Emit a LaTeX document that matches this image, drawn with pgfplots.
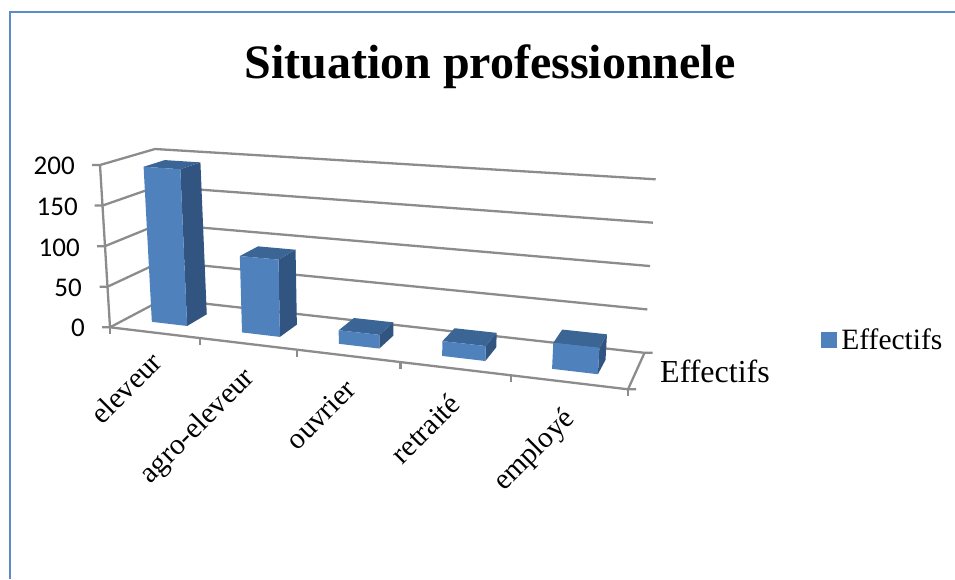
\documentclass[border=0pt]{standalone}
\usepackage{fontspec}
\usepackage{pgfplots}
\pgfplotsset{compat=1.18}
\setmainfont{Liberation Serif}
\newfontfamily\calibrifont{Carlito}

\definecolor{barfront}{HTML}{4F81BD}
\definecolor{barside}{HTML}{325480}
\definecolor{bartop}{HTML}{3B6595}
\definecolor{gridgrey}{HTML}{8C8C8C}
\definecolor{frameblue}{HTML}{5B8CC8}

% Projection of the chart box: t = category position / 5, d = depth, v = value / 200
\pgfplotsset{
  /pgf/declare function={
    pu(\t)=\t*(0.8375+0.1625*\t);
    PX(\t,\d,\v)=(1-\v)*((1-\d)*(110+518*pu(\t))+\d*(163.6+480.9*pu(\t)))
                 +\v*((1-\d)*(100+540*pu(\t))+\d*(155+500.7*pu(\t)));
    PY(\t,\d,\v)=(1-\v)*((1-\d)*(327.3+62*pu(\t))+\d*(299+53.8*pu(\t)))
                 +\v*((1-\d)*(165+36.6*pu(\t))+\d*(149+30.3*pu(\t)));
  },
  box line/.style={draw=gridgrey,line width=2.3pt,line join=round},
}

% One line through the box; columns: t d v plus a pixel offset dx dy
\newcommand{\boxline}[1]{%
  \addplot[box line] table[row sep=\\,
    x expr={PX(\thisrow{t}/5,\thisrow{d},\thisrow{v}/200)+\thisrow{dx}},
    y expr={PY(\thisrow{t}/5,\thisrow{d},\thisrow{v}/200)+\thisrow{dy}}]
    {t d v dx dy\\ #1};}

% One face of a column: colour, category index, value, corners
\newcommand{\barface}[4]{%
  \addplot[fill=#1,draw=none] table[row sep=\\,
    x expr={PX((#2+\thisrow{a})/5,\thisrow{d},\thisrow{h}*#3/200)},
    y expr={PY((#2+\thisrow{a})/5,\thisrow{d},\thisrow{h}*#3/200)}]
    {a d h\\ #4} -- cycle;}
\newcommand{\columnbar}[2]{%
  \barface{barside}{#1}{#2}{0.7 0.3 0\\ 0.7 0.7 0\\ 0.7 0.7 1\\ 0.7 0.3 1\\}
  \barface{bartop}{#1}{#2}{0.3 0.3 1\\ 0.7 0.3 1\\ 0.7 0.7 1\\ 0.3 0.7 1\\}
  \barface{barfront}{#1}{#2}{0.3 0.3 0\\ 0.7 0.3 0\\ 0.7 0.3 1\\ 0.3 0.3 1\\}
}

\begin{document}
\begin{tikzpicture}
\begin{axis}[
  scale only axis,
  width=955pt,height=579pt,
  xmin=0,xmax=955,ymin=0,ymax=579,
  y dir=reverse,
  hide axis,
  clip=false,
  legend style={at={(axis cs:821,339.5)},anchor=west,draw=none,fill=none,
    inner sep=0pt,outer sep=0pt,
    font=\fontsize{29.5}{31}\selectfont,
    legend cell align=left},
]
\addlegendimage{legend image code/.code={\fill[barfront] (0pt,-7.5pt) rectangle (15pt,7.5pt);\path (18pt,0pt);}}
\addlegendentry{Effectifs}

% Full page extent
\path[use as bounding box] (axis cs:0,0) rectangle (axis cs:955,579);

% Chart frame
\addplot[frameblue,line width=2pt] coordinates {(10,579) (10,12) (955,12)};

% Value levels along the side and back walls
\boxline{0 0 200 -8 0\\ 0 0 200 0 0\\ 0 1 200 0 0\\ 5 1 200 0 0\\}
\boxline{0 0 150 -8 0\\ 0 0 150 0 0\\ 0 1 150 0 0\\ 5 1 150 0 0\\}
\boxline{0 0 100 -8 0\\ 0 0 100 0 0\\ 0 1 100 0 0\\ 5 1 100 0 0\\}
\boxline{0 0 50 -8 0\\ 0 0 50 0 0\\ 0 1 50 0 0\\ 5 1 50 0 0\\}
\boxline{0 0 0 -8 0\\ 0 0 0 0 0\\ 0 1 0 0 0\\ 5 1 0 0 0\\ 5 1 0 8 0\\}
% Value axis, floor edges and category ticks
\boxline{0 0 0 0 0\\ 0 0 200 0 0\\}
\boxline{0 0 0 0 0\\ 5 0 0 0 0\\ 5 0 0 8 0\\}
\boxline{5 0 0 0 0\\ 5 1 0 0 0\\}
\boxline{0 0 0 0 0\\ 0 0 0 0 7\\}
\boxline{1 0 0 0 0\\ 1 0 0 0 7\\}
\boxline{2 0 0 0 0\\ 2 0 0 0 7\\}
\boxline{3 0 0 0 0\\ 3 0 0 0 7\\}
\boxline{4 0 0 0 0\\ 4 0 0 0 7\\}
\boxline{5 0 0 0 0\\ 5 0 0 0 7\\}

% Columns
\columnbar{0}{194}
\columnbar{1}{93}
\columnbar{2}{16}
\columnbar{3}{17}
\columnbar{4}{29}

% Title
\node[font=\fontsize{48}{50}\bfseries\selectfont,anchor=base] at (axis cs:490,78) {Situation professionnele};

% Value labels
\begin{scope}[every node/.style={font=\calibrifont\fontsize{27}{29}\selectfont,anchor=east,inner sep=0pt}]
\node at (axis cs:75,166) {200};
\node at (axis cs:78,207) {150};
\node at (axis cs:80,248) {100};
\node at (axis cs:82,288) {50};
\node at (axis cs:85,328) {0};
\end{scope}

% Category labels
\begin{scope}[every node/.style={font=\fontsize{29.5}{31}\selectfont,rotate=45,anchor=base east,inner sep=0pt}]
\node at (axis cs:164,364) {eleveur};
\node at (axis cs:256,379) {agro-eleveur};
\node at (axis cs:358,391) {ouvrier};
\node at (axis cs:462,406) {retraité};
\node at (axis cs:576,420) {employé};
\end{scope}

% Depth axis label
\node[font=\fontsize{32}{34}\selectfont,anchor=base west,inner sep=0pt] at (axis cs:660,382) {Effectifs};
\end{axis}
\end{tikzpicture}
\end{document}
